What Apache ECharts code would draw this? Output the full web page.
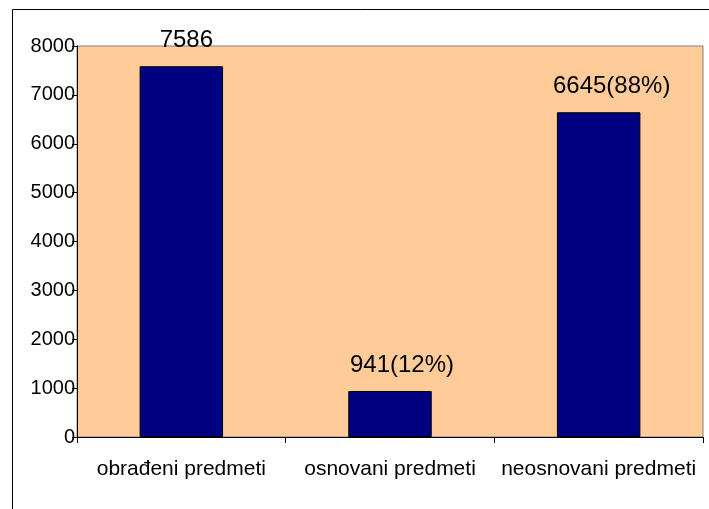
<!DOCTYPE html>
<html>
<head>
<meta charset="utf-8">
<script src="https://cdn.jsdelivr.net/npm/echarts@6/dist/echarts.min.js"></script>
<style>
  html, body { margin: 0; padding: 0; background: #fff; }
  #chart { width: 709px; height: 509px; }
</style>
</head>
<body>
<div id="chart"></div>
<script>
// podaci
const categories = ['obrađeni predmeti', 'osnovani predmeti', 'neosnovani predmeti']
const values = [7586, 941, 6645]
const barLabels = ['7586', '941(12%)', '6645(88%)']

// labele u originalu stoje malo desno od sredine stupca
const labelShift = [5, 12, 13]

const chart = echarts.init(document.getElementById('chart'))

const option = {
  animation: false,
  textStyle: { fontFamily: 'Liberation Sans, Arial, sans-serif' },
  graphic: [{
    type: 'rect',
    shape: { x: 12.5, y: 9.5, width: 720, height: 520 },
    style: { fill: 'none', stroke: '#000', lineWidth: 1 },
    silent: true
  }],
  grid: {
    left: 77,
    top: 46,
    right: 6,
    bottom: 72,
    show: true,
    backgroundColor: '#FFCC99',
    borderColor: '#808080',
    borderWidth: 1
  },
  xAxis: {
    type: 'category',
    data: categories,
    axisLine: { lineStyle: { color: '#000', width: 1 } },
    axisTick: { show: true, length: 6, alignWithLabel: false, lineStyle: { color: '#000' } },
    axisLabel: { color: '#000', fontSize: 21, margin: 22, interval: 0 }
  },
  yAxis: {
    type: 'value',
    min: 0,
    max: 8000,
    interval: 1000,
    splitLine: { show: false },
    axisLine: { show: true, lineStyle: { color: '#000', width: 1 } },
    axisTick: { show: true, length: 5, lineStyle: { color: '#000' } },
    axisLabel: { color: '#000', fontSize: 20, margin: 2, formatter: v => String(v) }
  },
  series: [{
    type: 'bar',
    data: values.map((v, i) => ({ value: v, label: { offset: [labelShift[i], 0] } })),
    barWidth: '40%',
    itemStyle: { color: '#000080', borderColor: '#000', borderWidth: 1 },
    label: {
      show: true,
      position: 'top',
      distance: 14,
      color: '#000',
      fontSize: 24,
      formatter: p => barLabels[p.dataIndex]
    }
  }]
}

chart.setOption(option)
</script>
</body>
</html>
